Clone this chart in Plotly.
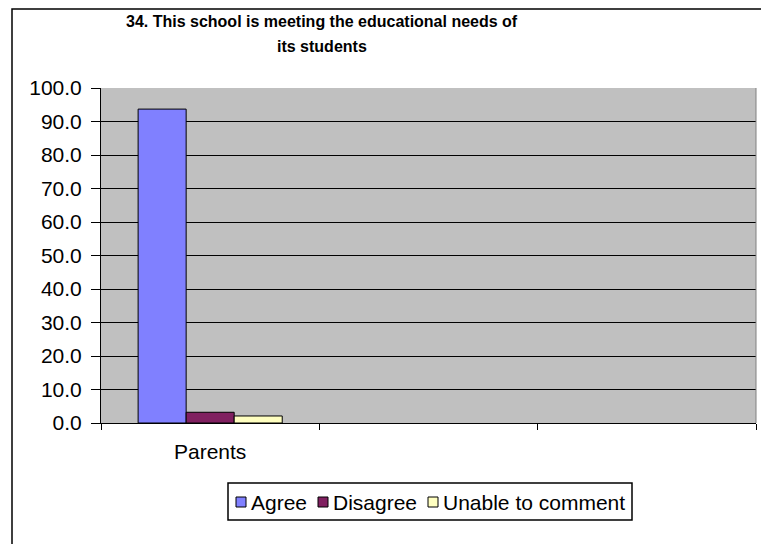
import plotly.graph_objects as go

# survey result, percentage of respondents
groups = ["Parents", " ", "  "]
agree = [93.7, None, None]
disagree = [3.2, None, None]
unable = [2.1, None, None]

names = ["Agree", "Disagree", "Unable to comment"]
values = [agree, disagree, unable]
colors = ["#8080FF", "#802060", "#FFFFC0"]

title_lines = ["34. This school is meeting the educational needs of", "its students"]

fig = go.Figure()
for name, vals, col in zip(names, values, colors):
    fig.add_trace(go.Bar(
        name=name, x=groups, y=vals,
        marker=dict(color=col, line=dict(color="black", width=1)),
    ))

# the page puts the figure 8px in from the top-left corner,
# so positions below are page pixels minus that offset
OFF = 8
W, H = 769, 544
L, T = 101 - OFF, 88 - OFF
R = W - (756 - OFF)
B = H - (423 - OFF)
pw, ph = W - L - R, H - T - B

def px(x):
    return (x - OFF - L) / pw

def py(y):
    return (H - B - (y - OFF)) / ph

fig.update_layout(
    width=W, height=H,
    margin=dict(l=L, r=R, t=T, b=B, pad=0),
    paper_bgcolor="white",
    plot_bgcolor="#C0C0C0",
    barmode="group",
    bargap=0.34,
    bargroupgap=0,
    font=dict(family="Liberation Sans, Arial", size=21, color="black"),
    showlegend=False,
)

fig.update_xaxes(
    type="category",
    categoryorder="array", categoryarray=groups,
    tickson="boundaries",
    ticks="outside", ticklen=6, tickcolor="black",
    ticklabelstandoff=10,
    showline=True, linecolor="black", linewidth=1,
    showgrid=False,
    tickfont=dict(size=21),
)
fig.update_yaxes(
    range=[0, 100], dtick=10, tickformat=".1f",
    ticks="outside", ticklen=9, tickcolor="black",
    ticklabelstandoff=5,
    showline=True, linecolor="black", linewidth=1,
    showgrid=True, gridcolor="black", gridwidth=1,
    zeroline=False,
    tickfont=dict(size=21),
)

# two-line title
for i, line in enumerate(title_lines):
    fig.add_annotation(
        text="<b>%s</b>" % line,
        xref="paper", yref="paper",
        x=px(322), y=py(22 + 25 * i),
        xanchor="center", yanchor="middle",
        showarrow=False,
        font=dict(size=16, color="black"),
    )

# legend drawn by hand, Excel style: small squares packed close to the text
leg_box = (228, 632, 483, 520)
leg_sq = [236, 318, 428]
fig.add_shape(type="rect", xref="paper", yref="paper",
              x0=px(leg_box[0]), x1=px(leg_box[1]),
              y0=py(leg_box[3]), y1=py(leg_box[2]),
              line=dict(color="black", width=1.5), fillcolor="white")
for name, col, x0 in zip(names, colors, leg_sq):
    fig.add_shape(type="rect", xref="paper", yref="paper",
                  x0=px(x0), x1=px(x0 + 10), y0=py(507), y1=py(497),
                  line=dict(color="black", width=1), fillcolor=col)
    fig.add_annotation(
        text=name, xref="paper", yref="paper",
        x=px(x0 + 13), y=py(502), xanchor="left", yanchor="middle",
        showarrow=False, font=dict(size=21, color="black"),
    )

# outer chart frame and plot area edge
fig.add_shape(type="rect", xref="paper", yref="paper",
              x0=px(12), x1=px(767), y0=py(548), y1=py(OFF + 1),
              line=dict(color="black", width=1.5), layer="below")
fig.add_shape(type="line", xref="paper", yref="paper",
              x0=1, x1=1, y0=0, y1=1,
              line=dict(color="#808080", width=1))

fig.write_html("out.html")
